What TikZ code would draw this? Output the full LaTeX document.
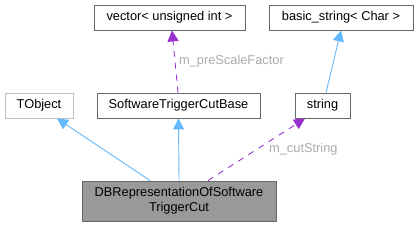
\documentclass[tikz,border=0pt]{standalone}
\usepackage{fontspec}
\setmainfont{Liberation Sans}
\definecolor{edgeblue}{RGB}{99,184,255}
\definecolor{edgepurple}{RGB}{153,50,204}
\definecolor{boxgray}{RGB}{102,102,102}
\definecolor{lightgray}{RGB}{191,191,191}
\definecolor{labelgray}{RGB}{170,170,170}
\definecolor{fillgray}{RGB}{153,153,153}
\usetikzlibrary{arrows.meta,positioning}

\begin{document}
\begin{tikzpicture}[x=1pt,y=1pt,
  classbox/.style={draw=boxgray,fill=white,line width=0.9pt,minimum height=25pt,inner sep=2pt,
    align=center,font=\fontsize{12.8}{15}\selectfont},
  inherit/.style={draw=edgeblue,line width=0.9pt,-{Triangle[length=11pt,width=11pt]}},
  usage/.style={draw=edgepurple,line width=0.9pt,dash pattern=on 6pt off 6pt,
    -{Triangle[length=11pt,width=11pt]}},
  edgelabel/.style={text=labelgray,font=\fontsize{12.8}{15}\selectfont,inner sep=0pt}
]
  \useasboundingbox (0,0) rectangle (419,227);
  % classes
  \node[classbox,minimum width=151pt] (vec) at (169.5,209.5) {vector< unsigned int >};
  \node[classbox,minimum width=144pt] (bstr) at (341,209.5) {basic\_string< Char >};
  \node[classbox,minimum width=68pt,draw=lightgray] (tobj) at (39,121.5) {TObject};
  \node[classbox,minimum width=163pt] (cutbase) at (178.5,121.5) {SoftwareTriggerCutBase};
  \node[classbox,minimum width=55pt] (str) at (322.5,121.5) {string};
  \node[classbox,minimum width=194pt,minimum height=40pt,fill=fillgray] (dbrep) at (179,26)
    {DBRepresentationOfSoftware\\TriggerCut};
  % edges
  \draw[inherit] ([xshift=-29pt]dbrep.north) -- ([xshift=18pt]tobj.south);
  \draw[inherit] (dbrep.north) -- (cutbase.south);
  \draw[usage] ([xshift=29pt]dbrep.north) -- ([xshift=-17.5pt]str.south);
  \draw[inherit] ([xshift=3.5pt]str.north) -- (bstr.south);
  \draw[usage] ([xshift=-0.5pt]cutbase.north) -- ([xshift=2.5pt]vec.south);
  % labels
  \node[edgelabel,anchor=west] (lbpre) at (179,166) {m\_preScaleFactor};
  \node[edgelabel,anchor=west] (lbcut) at (269,78) {m\_cutString};
\end{tikzpicture}
\end{document}
